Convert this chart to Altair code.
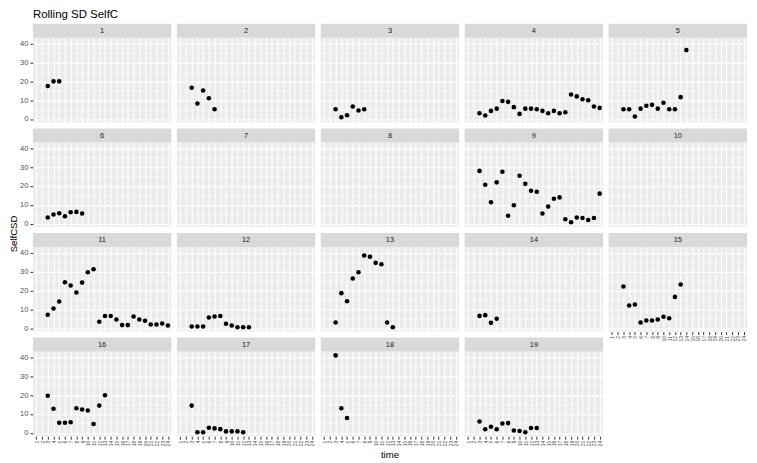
import altair as alt
import pandas as pd

# x categories (discrete time) and y tick positions
times = [str(i) for i in range(1, 25)]
y_ticks = [0, 5, 10, 15, 20, 25, 30, 35, 40]
panel_ids = list(range(1, 20))
first_time = 3  # rolling window: first value at time 3
title_text = "Rolling SD SelfC"
x_title = "time"
y_title = "SelfCSD"

# Rolling SD values per panel, starting at time 3
p1 = [17.5, 20.0, 20.0]
p2 = [16.6, 8.2, 15.1, 11.0, 5.2]
p3 = [5.2, 0.9, 2.0, 6.6, 4.5, 5.2]
p4 = [3.0, 1.8, 4.3, 5.5, 9.6, 9.1, 6.3, 2.7, 5.5, 5.5, 5.2, 4.3, 3.0, 4.3, 3.0, 3.6, 13.0, 12.0, 10.5, 10.0, 6.6, 5.9]
p5 = [5.2, 5.2, 1.3, 5.5, 7.0, 7.5, 5.5, 8.6, 5.2, 5.2, 11.6, 36.6]
p6 = [3.2, 4.8, 5.5, 3.9, 6.0, 6.2, 5.3]
p7 = []
p8 = []
p9 = [28.0, 20.6, 11.3, 21.9, 27.5, 4.1, 9.7, 25.4, 21.1, 17.4, 16.9, 5.3, 9.0, 13.2, 13.9, 2.3, 0.7, 3.2, 3.0, 1.9, 3.0, 15.9]
p10 = []
p11 = [7.1, 10.4, 14.2, 24.4, 22.7, 18.9, 24.2, 29.7, 31.3, 3.4, 6.4, 6.4, 4.6, 1.6, 1.6, 6.2, 4.6, 3.9, 1.9, 1.9, 2.5, 1.4]
p12 = [0.9, 0.9, 0.9, 5.7, 6.2, 6.4, 2.3, 1.4, 0.5, 0.5, 0.5]
p13 = [3.0, 18.6, 14.3, 26.4, 29.7, 38.6, 37.9, 34.7, 34.0, 3.0, 0.5]
p14 = [6.5, 6.9, 2.8, 5.0]
p15 = [22.1, 12.0, 12.6, 3.0, 4.1, 4.1, 4.6, 6.0, 5.3, 16.6, 23.2]
p16 = [19.6, 12.7, 5.3, 5.3, 5.6, 13.0, 12.3, 11.8, 4.6, 14.4, 19.9]
p17 = [14.4, 0.2, 0.2, 2.6, 2.3, 1.9, 0.7, 0.7, 0.7, 0.2]
p18 = [41.1, 13.0, 7.8]
p19 = [6.0, 1.8, 3.2, 1.8, 4.9, 5.1, 1.2, 0.9, 0.2, 2.5, 2.5]

series = [p1, p2, p3, p4, p5, p6, p7, p8, p9, p10,
          p11, p12, p13, p14, p15, p16, p17, p18, p19]

NCOL = 5
W, H, STRIP = 139, 85, 14
FONT = "Liberation Sans"
bottom_panels = {15, 16, 17, 18, 19}

x_scale = alt.Scale(domain=times, type="point", padding=0.6)
y_scale = alt.Scale(domain=[-1.85, 43.15], nice=False, zero=False)
grid_w = {"condition": {"test": "datum.value % 10 !== 0", "value": 0.5}, "value": 1.1}
tick_op = {"condition": {"test": "datum.value % 10 !== 0", "value": 0}, "value": 1}

panels = []
for idx, (pid, vals) in enumerate(zip(panel_ids, series)):
    col = idx % NCOL
    pts_df = pd.DataFrame({
        "time": [str(first_time + k) for k in range(len(vals))],
        "sd": vals,
    })
    if col == 0:
        y_axis = alt.Axis(values=y_ticks, grid=True, gridWidth=grid_w, tickOpacity=tick_op,
                          labelExpr="datum.value % 10 === 0 ? datum.label : ''", title=None)
    else:
        y_axis = alt.Axis(values=y_ticks, grid=True, gridWidth=grid_w, labels=False,
                          ticks=False, title=None)
    if pid in bottom_panels:
        x_axis = alt.Axis(grid=True, gridWidth=1.1, labelAngle=270, labelFontSize=5,
                          labelPadding=1, labelBaseline="middle", labelAlign="right", title=None)
    else:
        x_axis = alt.Axis(grid=True, gridWidth=1.1, labels=False, ticks=False, title=None)

    points = alt.Chart(pts_df).mark_circle(size=21, color="black", opacity=1).encode(
        x=alt.X("time:O", scale=x_scale, axis=x_axis),
        y=alt.Y("sd:Q", scale=y_scale, axis=y_axis),
    )
    lab_df = pd.DataFrame({"label": [str(pid)]})
    strip_bg = alt.Chart(lab_df).mark_rect(color="#D9D9D9").encode(
        x=alt.value(0), x2=alt.value(W), y=alt.value(-STRIP), y2=alt.value(0)
    )
    strip_txt = alt.Chart(lab_df).mark_text(fontSize=7.5, color="#1A1A1A", font=FONT,
                                            baseline="middle").encode(
        x=alt.value(W / 2), y=alt.value(-STRIP / 2 + 0.5), text="label:N"
    )
    layers = [points, strip_bg, strip_txt]
    if pid == 1:
        layers.append(alt.Chart(pd.DataFrame({"t": [title_text]})).mark_text(
            fontSize=11.5, font=FONT, color="black", align="left", baseline="alphabetic"
        ).encode(x=alt.value(0), y=alt.value(-20), text="t:N"))
    if pid == 11:
        layers.append(alt.Chart(pd.DataFrame({"t": [y_title]})).mark_text(
            fontSize=9.6, font=FONT, color="black", angle=270, baseline="middle", align="center"
        ).encode(x=alt.value(-19), y=alt.value(-13), text="t:N"))
    if pid == 18:
        layers.append(alt.Chart(pd.DataFrame({"t": [x_title]})).mark_text(
            fontSize=9.6, font=FONT, color="black", baseline="middle", align="center"
        ).encode(x=alt.value(W / 2), y=alt.value(H + 19), text="t:N"))
    panels.append(alt.layer(*layers).properties(width=W, height=H))

chart = alt.concat(*panels, columns=NCOL, spacing={"row": 20, "column": 5.5},
                   bounds="flush").properties(
    padding={"left": 0, "top": 0, "right": 2, "bottom": 2},
).configure_view(
    fill="#EBEBEB", stroke=None
).configure_axis(
    domain=False, gridColor="white", tickColor="#333333", tickSize=3,
    labelColor="#4D4D4D", labelFontSize=7.5, labelFont=FONT, labelPadding=2,
)

chart.save("out.html", embed_options={"renderer": "svg", "actions": False})
